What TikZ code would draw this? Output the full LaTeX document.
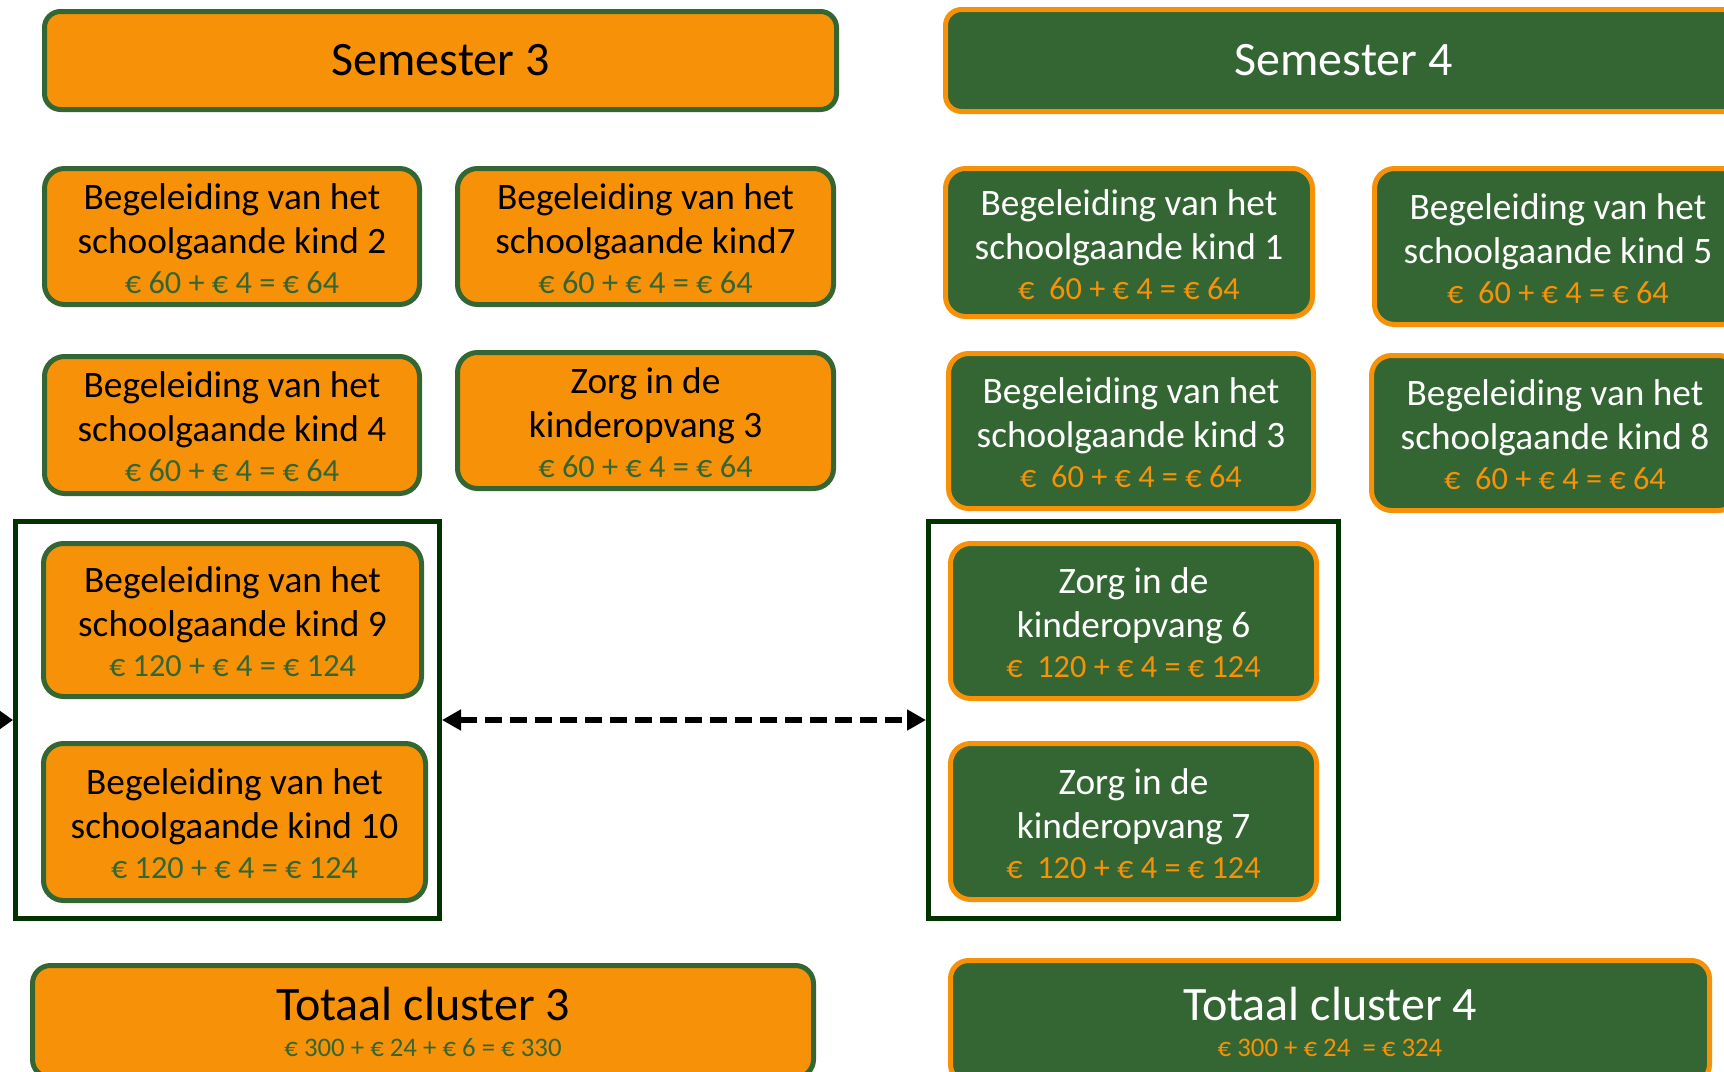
\documentclass[tikz,border=0pt]{standalone}
\usepackage{fontspec}
\setmainfont{Carlito}
\usetikzlibrary{arrows.meta}
\definecolor{corange}{HTML}{F79208}
\definecolor{cgreen}{HTML}{336633}
\definecolor{cdark}{HTML}{003300}
\newcommand{\eurog}[1]{{\fontsize{32.3}{40}\selectfont\color{cgreen}#1}}
\newcommand{\euroo}[1]{{\fontsize{32.3}{40}\selectfont\color{corange}#1}}
\newcommand{\eurotg}[1]{{\fontsize{26.8}{32}\selectfont\color{cgreen}#1}}
\newcommand{\euroto}[1]{{\fontsize{26.8}{32}\selectfont\color{corange}#1}}
\newcommand{\tstrut}{\rule{0pt}{30pt}}
\tikzset{
  obox/.style={draw=cgreen, fill=corange, line width=5pt, rounded corners=20pt,
    align=center, text=black, inner sep=0pt, font=\fontsize{37.3}{44}\selectfont},
  gbox/.style={draw=corange, fill=cgreen, line width=5pt, rounded corners=20pt,
    align=center, text=white, inner sep=0pt, font=\fontsize{37.3}{44}\selectfont},
  headbox/.style={rounded corners=16pt, font=\fontsize{48}{56}\selectfont},
  totbox/.style={rounded corners=18pt, font=\fontsize{48}{36}\selectfont},
  contbox/.style={draw=cdark, line width=5pt, inner sep=0pt},
  linkarrow/.style={draw=black, line width=5.5pt, dash pattern=on 17pt off 8pt,
    {Triangle[length=19pt,width=20pt]}-{Triangle[length=19pt,width=20pt]}},
  inarrow/.style={draw=black, line width=5pt, -{Triangle[length=15pt,width=20pt]}}
}
\begin{document}
\begin{tikzpicture}[x=1pt,y=-1pt]
\useasboundingbox (0,0) rectangle (1724,1071);
% containers
\node[contbox, minimum width=424pt, minimum height=397pt] (cl) at (227.5,720) {};
\node[contbox, minimum width=410pt, minimum height=397pt] (cr) at (1133.5,720) {};
% headers
\node[obox, headbox, minimum width=792pt, minimum height=98pt] (sem3) at (440.5,60.5) {Semester 3};
\node[gbox, headbox, minimum width=796pt, minimum height=102pt] (sem4) at (1343.5,60.5) {Semester 4};
% semester 3 boxes
\node[obox, minimum width=375pt, minimum height=136pt] (k2) at (232,236.5)
  {\tstrut Begeleiding van het\\schoolgaande kind 2\\[-4pt]\eurog{€ 60 + € 4 = € 64}};
\node[obox, minimum width=376pt, minimum height=136pt] (k7) at (645.5,236.5)
  {\tstrut Begeleiding van het\\schoolgaande kind7\\[-4pt]\eurog{€ 60 + € 4 = € 64}};
\node[obox, minimum width=375pt, minimum height=137pt] (k4) at (232,425)
  {\tstrut Begeleiding van het\\schoolgaande kind 4\\[-4pt]\eurog{€ 60 + € 4 = € 64}};
\node[obox, minimum width=376pt, minimum height=136pt] (z3) at (645.5,420.5)
  {\tstrut Zorg in de\\kinderopvang 3\\[-4pt]\eurog{€ 60 + € 4 = € 64}};
\node[obox, minimum width=378pt, minimum height=153pt] (k9) at (232.5,620)
  {\tstrut Begeleiding van het\\schoolgaande kind 9\\[-4pt]\eurog{€ 120 + € 4 = € 124}};
\node[obox, minimum width=382pt, minimum height=157pt] (k10) at (234.5,822)
  {\tstrut Begeleiding van het\\schoolgaande kind 10\\[-4pt]\eurog{€ 120 + € 4 = € 124}};
\node[obox, totbox, minimum width=781pt, minimum height=112pt] (t3) at (423,1021.5)
  {Totaal cluster 3\\\eurotg{€ 300 + € 24 + € 6 = € 330}};
% semester 4 boxes
\node[gbox, minimum width=367pt, minimum height=148pt] (k1) at (1129,242.5)
  {\tstrut Begeleiding van het\\schoolgaande kind 1\\[-4pt]\euroo{€~ 60 + € 4 = € 64}};
\node[gbox, minimum width=367pt, minimum height=156pt] (k5) at (1558,246.5)
  {\tstrut Begeleiding van het\\schoolgaande kind 5\\[-4pt]\euroo{€~ 60 + € 4 = € 64}};
\node[gbox, minimum width=365pt, minimum height=155pt] (k3) at (1131,431)
  {\tstrut Begeleiding van het\\schoolgaande kind 3\\[-4pt]\euroo{€~ 60 + € 4 = € 64}};
\node[gbox, minimum width=367pt, minimum height=155pt] (k8) at (1555,433)
  {\tstrut Begeleiding van het\\schoolgaande kind 8\\[-4pt]\euroo{€~ 60 + € 4 = € 64}};
\node[gbox, minimum width=366pt, minimum height=155pt] (z6) at (1133.5,621)
  {\tstrut Zorg in de\\kinderopvang 6\\[-4pt]\euroo{€~ 120 + € 4 = € 124}};
\node[gbox, minimum width=366pt, minimum height=156pt] (z7) at (1133.5,821.5)
  {\tstrut Zorg in de\\kinderopvang 7\\[-4pt]\euroo{€~ 120 + € 4 = € 124}};
\node[gbox, totbox, minimum width=759pt, minimum height=122pt] (t4) at (1330,1021.5)
  {Totaal cluster 4\\\euroto{€ 300 + € 24~ = € 324}};
% connectors
\draw[linkarrow] (cl.east) -- (cr.west);
\coordinate (offleft) at (-60,720);
\draw[inarrow] (offleft) -- (cl.west);
\end{tikzpicture}
\end{document}
